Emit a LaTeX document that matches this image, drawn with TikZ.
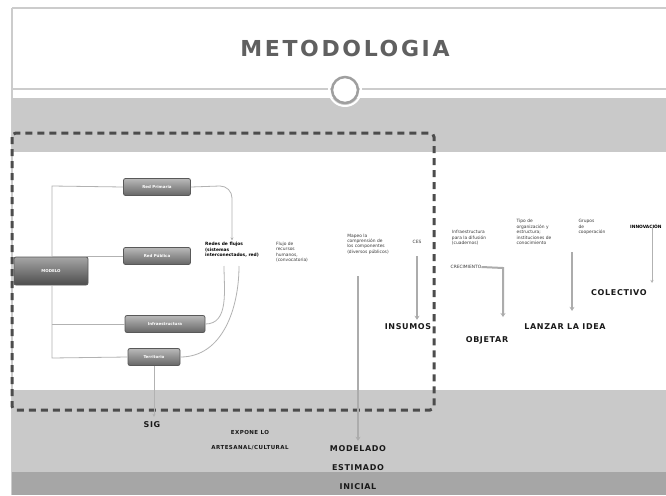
\documentclass[tikz,border=0pt]{standalone}
\usepackage{fontspec}
\setmainfont{DejaVu Sans}
\newfontfamily\titlefont[LetterSpace=12]{DejaVu Sans}
\newfontfamily\capfont[LetterSpace=8]{DejaVu Sans}
\usetikzlibrary{arrows.meta,calc}
\definecolor{bandgray}{HTML}{C9C9C9}
\definecolor{darkband}{HTML}{A6A6A6}
\definecolor{txtgray}{HTML}{3A3A3A}
\tikzset{
  gbox/.style={draw=gray!70!black, line width=0.8pt, rounded corners=2pt, top color=gray!55, bottom color=gray!80!black, text=white, font=\fontsize{4}{5}\selectfont\bfseries, inner sep=0pt, minimum height=17pt},
  small/.style={align=left, font=\fontsize{4.4}{5.4}\selectfont, text=txtgray, inner sep=0pt},
  smallb/.style={align=left, font=\fontsize{4.4}{5.4}\selectfont\bfseries, text=black, inner sep=0pt},
  biglab/.style={font=\capfont\fontsize{8}{9}\selectfont\bfseries, text=black!90, inner sep=1pt},
  conn/.style={draw=gray!60, line width=0.8pt},
  darr/.style={draw=gray!65, line width=2pt, -{Stealth[length=4pt,width=5pt]}},
  farr/.style={draw=gray!60, line width=0.8pt, -{Stealth[length=3pt,width=3pt]}},
  dashbox/.style={draw=black!70, line width=3pt, dash pattern=on 7pt off 5pt, rounded corners=4pt}
}
\begin{document}
\begin{tikzpicture}[x=1pt,y=-1pt]
\useasboundingbox (0,0) rectangle (666,495);
\fill[white] (0,0) rectangle (666,495);
% frame and bands
\draw[gray!40, line width=1.5pt] (12,8) -- (666,8);
\draw[gray!40, line width=1.5pt] (12,8) -- (12,495);
\fill[bandgray] (12,98) rectangle (666,152);
\fill[bandgray] (12,390) rectangle (666,495);
\fill[darkband] (12,472) rectangle (666,495);
\draw[gray!40, line width=1.5pt] (12,89) -- (666,89);
% title
\node[font=\titlefont\fontsize{22}{24}\selectfont\bfseries, text=gray!75!black] (title) at (345,48) {METODOLOGIA};
\node[circle, draw=gray!75, line width=2.5pt, fill=white, minimum size=26pt, inner sep=0pt] (ring) at (345,90) {};
\draw[white, line width=2pt] (ring) circle (16pt);
% dashed frame
\draw[dashbox] (12,133) rectangle (434,410);
% left boxes
\node[gbox, minimum width=74pt, minimum height=28pt, top color=gray!70, bottom color=gray!60!black] (modelo) at (51,271) {MODELO};
\node[gbox, minimum width=67pt] (b1) at (157,187) {Red Primaria};
\node[gbox, minimum width=67pt] (b2) at (157,256) {Red Pública};
\node[gbox, minimum width=80pt] (b3) at (165,324) {Infraestructura};
\node[gbox, minimum width=52pt] (b4) at (154,357) {Territorio};
% tree connectors
\coordinate (vtop) at (52,186);
\coordinate (vbot) at (52,358);
\draw[conn] (modelo.north -| vtop) -- (vtop) -- (b1.west);
\draw[conn] (52,256) -- (b2.west);
\draw[conn] (modelo.south -| vbot) -- (vbot) -- (b4.west);
\draw[conn] (52,324) -- (b3.west);
% middle texts
\node[smallb] (redes) at (232,250) {Redes de flujos\\(sistemas\\interconectados, red)};
\node[small] (flujo) at (292,252) {Flujo de\\recursos\\humanos,\\(convocatoria)};
\node[small] (mapeo) at (368,244) {Mapeo la\\comprensión de\\los componentes\\(diversos públicos)};
\node[small] (ces) at (417,242) {CES};
% curves into redes
\draw[farr] (b1.east) -- (220,186) to[out=0,in=90] (232,198) -- ($(redes.north)+(0,-2)$);
\coordinate (r3) at (224,266);
\coordinate (r4) at (239,266);
\draw[conn] (b3.east) to[out=0,in=-90] (r3);
\draw[conn] (b4.east) to[out=0,in=-90] (r4);
% right texts
\node[small] (infra) at (469,238) {Infraestructura\\para la difusión\\(cuadernos)};
\node[small] (crec) at (466,267) {CRECIMIENTO};
\node[small] (tipo) at (534,232) {Tipo de\\organización y\\estructura;\\instituciones de\\conocimiento};
\node[small] (grupos) at (592,227) {Grupos\\de\\cooperación};
\node[smallb, anchor=west] (innov) at (630,226) {INNOVACIÓN};
% bottom labels
\node[biglab] (insumos) at (408,327) {INSUMOS};
\node[biglab] (objetar) at (487,340) {OBJETAR};
\node[biglab] (lanzar) at (565,327) {LANZAR LA IDEA};
\node[biglab, anchor=west] (colectivo) at (590,293) {COLECTIVO};
\node[biglab] (sig) at (152,425) {SIG};
\node[biglab, align=center, font=\capfont\fontsize{5.5}{15}\selectfont\bfseries] (expone) at (250,440) {EXPONE LO\\ARTESANAL/CULTURAL};
\node[biglab, align=center, font=\capfont\fontsize{8}{19}\selectfont\bfseries] (modelado) at (358,468) {MODELADO\\ESTIMADO\\INICIAL};
% arrows
\coordinate (colin) at (652,283);
\draw[darr] (358,276) -- ($(modelado.north)+(0,-4)$);
\draw[darr] (417,256) -- ($(insumos.north)+(9,-3)$);
\draw[darr] (crec.east) -- (503,268) -- ($(objetar.north)+(16,-18)$);
\draw[darr] (572,252) -- ($(lanzar.north)+(7,-12)$);
\draw[farr, line width=1pt] (innov.south -| colin) -- (colin);
\draw[farr, line width=1pt] (b4.south) -- ($(sig.north)+(2,-4)$);
\end{tikzpicture}
\end{document}
